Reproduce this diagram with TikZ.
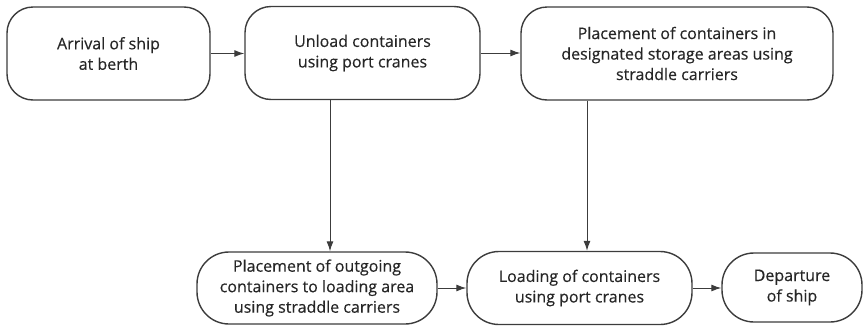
\documentclass[tikz,border=0pt]{standalone}
\usepackage{fontspec}
\setmainfont{Open Sans}
\newfontfamily\stagefont{Open Sans}[FakeBold=0.35]
\usetikzlibrary{arrows.meta}
\definecolor{edge}{HTML}{3C3C3C}
\definecolor{ink}{HTML}{262626}
\tikzset{
  stage/.style={draw=edge, line width=1.4pt, align=center, text=ink,
    font=\stagefont\fontsize{16}{20.5}\selectfont, inner sep=0pt},
  topstage/.style={stage, rounded corners=26pt},
  lowstage/.style={stage, rounded corners=32pt},
  flow/.style={draw=edge, line width=1pt, -{Latex[length=10pt,width=7pt]}}
}
\begin{document}
\begin{tikzpicture}[x=1pt,y=-1pt]
  \useasboundingbox (0,0) rectangle (863,327);
  % upper row
  \node[topstage, minimum width=203pt, minimum height=93pt] (arrive) at (108.5,53.5)
    {Arrival of ship\\at berth};
  \node[topstage, minimum width=235pt, minimum height=93pt] (unload) at (362.5,53)
    {Unload containers\\using port cranes};
  \node[topstage, minimum width=312pt, minimum height=93pt] (store) at (677,53.5)
    {Placement of containers in\\designated storage areas using\\straddle carriers};
  % lower row
  \node[lowstage, minimum width=240pt, minimum height=72pt] (outgo) at (317,288)
    {Placement of outgoing\\containers to loading area\\using straddle carriers};
  \node[lowstage, minimum width=225pt, minimum height=73pt] (load) at (579.5,288)
    {Loading of containers\\using port cranes};
  \node[lowstage, minimum width=140pt, minimum height=69pt] (depart) at (792,287.5)
    {Departure\\of ship};
  % vertical drop lines
  \coordinate (dropA) at (330,0);
  \coordinate (dropB) at (587,0);
  % connectors
  \draw[flow] (arrive.east) -- (unload.west |- arrive.east);
  \draw[flow] (unload.east) -- (store.west |- unload.east);
  \draw[flow] (dropA |- unload.south) -- (dropA |- outgo.north);
  \draw[flow] (dropB |- store.south) -- (dropB |- load.north);
  \draw[flow] (outgo.east) -- (load.west |- outgo.east);
  \draw[flow] (load.east) -- (depart.west |- load.east);
\end{tikzpicture}
\end{document}
